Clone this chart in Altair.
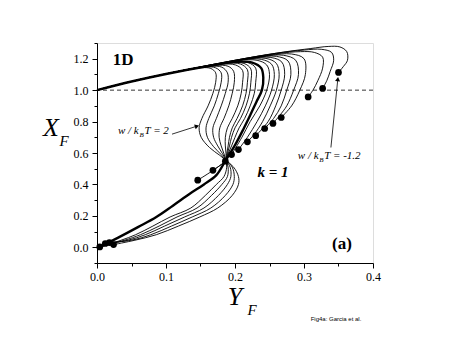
import altair as alt
import pandas as pd

# ---------------- data ----------------
FAN = [(0.0, 1.0), (0.05, 1.055), (0.1, 1.103)]

# S-shaped trajectories (left family, w/kBT = 2.0 ... 0.6)
curve_s0 = FAN + [(0.13, 1.13), (0.152, 1.143), (0.165, 1.138), (0.172, 1.11), (0.172, 1.05), (0.168, 0.98),
                  (0.161, 0.90), (0.152, 0.82), (0.148, 0.76), (0.151, 0.70), (0.163, 0.635), (0.178, 0.585),
                  (0.187, 0.553), (0.198, 0.51), (0.205, 0.45), (0.205, 0.40), (0.196, 0.33), (0.175, 0.25),
                  (0.149, 0.193), (0.118, 0.135), (0.086, 0.08), (0.055, 0.045), (0.024, 0.017)]
curve_s1 = FAN + [(0.135, 1.134), (0.158, 1.148), (0.172, 1.142), (0.18, 1.11), (0.18, 1.05), (0.176, 0.98),
                  (0.17, 0.90), (0.162, 0.82), (0.158, 0.76), (0.160, 0.70), (0.169, 0.64), (0.18, 0.59),
                  (0.187, 0.553), (0.196, 0.51), (0.199, 0.45), (0.197, 0.40), (0.186, 0.33), (0.165, 0.25),
                  (0.138, 0.193), (0.108, 0.135), (0.078, 0.08), (0.05, 0.045), (0.018, 0.03)]
curve_s2 = FAN + [(0.14, 1.138), (0.165, 1.152), (0.181, 1.146), (0.189, 1.11), (0.19, 1.05), (0.186, 0.98),
                  (0.18, 0.90), (0.173, 0.82), (0.168, 0.76), (0.169, 0.70), (0.175, 0.645), (0.182, 0.595),
                  (0.187, 0.553), (0.193, 0.51), (0.194, 0.45), (0.189, 0.40), (0.176, 0.33), (0.155, 0.25),
                  (0.127, 0.193), (0.098, 0.135), (0.07, 0.08), (0.045, 0.045), (0.012, 0.024)]
curve_s3 = FAN + [(0.145, 1.142), (0.172, 1.158), (0.19, 1.152), (0.198, 1.12), (0.199, 1.05), (0.196, 0.98),
                  (0.191, 0.90), (0.184, 0.82), (0.178, 0.76), (0.177, 0.70), (0.180, 0.645), (0.184, 0.595),
                  (0.187, 0.553), (0.19, 0.51), (0.189, 0.45), (0.181, 0.40), (0.166, 0.33), (0.145, 0.25),
                  (0.116, 0.193), (0.09, 0.135), (0.063, 0.08), (0.04, 0.045), (0.004, 0.002)]
curve_s4 = FAN + [(0.15, 1.146), (0.18, 1.165), (0.201, 1.16), (0.211, 1.125), (0.211, 1.05), (0.209, 0.98),
                  (0.204, 0.90), (0.196, 0.82), (0.189, 0.76), (0.186, 0.70), (0.186, 0.645), (0.187, 0.595),
                  (0.187, 0.553), (0.188, 0.51), (0.184, 0.45), (0.173, 0.40), (0.157, 0.33), (0.136, 0.25),
                  (0.106, 0.193), (0.081, 0.135), (0.056, 0.08), (0.035, 0.045), (0.004, 0.002)]
curve_s5 = FAN + [(0.155, 1.148), (0.186, 1.17), (0.208, 1.166), (0.218, 1.13), (0.218, 1.05), (0.216, 0.98),
                  (0.211, 0.90), (0.203, 0.82), (0.196, 0.76), (0.192, 0.70), (0.19, 0.645), (0.188, 0.595),
                  (0.187, 0.553), (0.178, 0.52), (0.165, 0.48), (0.146, 0.427)]
curve_s6 = FAN + [(0.16, 1.152), (0.19, 1.173), (0.213, 1.17), (0.223, 1.135), (0.223, 1.05), (0.221, 0.98),
                  (0.216, 0.90), (0.208, 0.82), (0.2, 0.76), (0.195, 0.70), (0.192, 0.645), (0.189, 0.595),
                  (0.187, 0.553), (0.178, 0.52), (0.168, 0.49)]
curve_s7 = FAN + [(0.165, 1.155), (0.195, 1.177), (0.219, 1.175), (0.23, 1.14), (0.23, 1.05), (0.228, 0.98),
                  (0.222, 0.90), (0.214, 0.82), (0.206, 0.76), (0.2, 0.70), (0.195, 0.645), (0.19, 0.595),
                  (0.186, 0.548)]

# trajectories ending on the diagonal
curve_d0 = FAN + [(0.17, 1.162), (0.205, 1.188), (0.232, 1.19), (0.246, 1.16), (0.25, 1.1), (0.246, 1.0),
                  (0.236, 0.9), (0.222, 0.8), (0.21, 0.7), (0.195, 0.59)]
curve_d1 = FAN + [(0.175, 1.166), (0.21, 1.193), (0.238, 1.196), (0.253, 1.165), (0.257, 1.1), (0.253, 1.0),
                  (0.244, 0.9), (0.232, 0.8), (0.218, 0.7), (0.205, 0.622)]
curve_d2 = FAN + [(0.18, 1.17), (0.215, 1.197), (0.245, 1.202), (0.26, 1.17), (0.264, 1.1), (0.26, 1.0),
                  (0.251, 0.9), (0.24, 0.8), (0.228, 0.72), (0.218, 0.671)]
curve_d3 = FAN + [(0.185, 1.174), (0.22, 1.201), (0.252, 1.208), (0.268, 1.178), (0.272, 1.1), (0.267, 1.0),
                  (0.259, 0.9), (0.248, 0.8), (0.23, 0.71)]
curve_d4 = FAN + [(0.19, 1.178), (0.23, 1.208), (0.26, 1.215), (0.277, 1.185), (0.281, 1.1), (0.275, 1.0),
                  (0.267, 0.9), (0.256, 0.82), (0.243, 0.756)]
curve_d5 = FAN + [(0.195, 1.182), (0.24, 1.215), (0.27, 1.222), (0.288, 1.19), (0.292, 1.1), (0.285, 1.0),
                  (0.275, 0.9), (0.265, 0.84), (0.255, 0.788)]
curve_d6 = FAN + [(0.2, 1.186), (0.25, 1.222), (0.282, 1.23), (0.3, 1.2), (0.302, 1.1), (0.294, 1.0),
                  (0.282, 0.9), (0.267, 0.826)]

# upper-right curls (w/kBT down to -1.2)
curve_u0 = FAN + [(0.2, 1.19), (0.26, 1.232), (0.295, 1.245), (0.315, 1.24), (0.327, 1.21), (0.327, 1.14),
                  (0.32, 1.06), (0.313, 1.0), (0.306, 0.957)]
curve_u1 = FAN + [(0.2, 1.19), (0.26, 1.235), (0.3, 1.255), (0.325, 1.26), (0.34, 1.24), (0.343, 1.19),
                  (0.338, 1.12), (0.333, 1.06), (0.327, 1.011)]
curve_u2 = FAN + [(0.2, 1.19), (0.27, 1.242), (0.31, 1.265), (0.335, 1.278), (0.352, 1.275), (0.362, 1.245),
                  (0.363, 1.19), (0.357, 1.15), (0.35, 1.113)]

# thick curve
curve_thick = FAN + [(0.17, 1.16), (0.2, 1.18), (0.225, 1.175), (0.238, 1.14), (0.241, 1.08), (0.239, 1.0),
                     (0.231, 0.925), (0.222, 0.84), (0.212, 0.75), (0.2, 0.65), (0.186, 0.55), (0.173, 0.459),
                     (0.155, 0.40), (0.135, 0.342), (0.11, 0.265), (0.086, 0.193), (0.06, 0.13), (0.03, 0.06),
                     (0.004, 0.002)]

# end points (dots)
dot_x = [0.004, 0.012, 0.024, 0.018, 0.146, 0.168, 0.186, 0.195, 0.205, 0.218, 0.23, 0.243, 0.255, 0.267,
         0.306, 0.327, 0.35]
dot_y = [0.002, 0.024, 0.017, 0.03, 0.427, 0.49, 0.548, 0.59, 0.622, 0.671, 0.71, 0.756, 0.788, 0.826,
         0.957, 1.011, 1.113]

x_major = [0.0, 0.1, 0.2, 0.3, 0.4]
x_minor = [0.05, 0.15, 0.25, 0.35]
y_major = [0.0, 0.2, 0.4, 0.6, 0.8, 1.0, 1.2]
y_minor = [-0.1, 0.1, 0.3, 0.5, 0.7, 0.9, 1.1, 1.3]

thin_curves = {
    "s0": curve_s0, "s1": curve_s1, "s2": curve_s2, "s3": curve_s3, "s4": curve_s4, "s5": curve_s5,
    "s6": curve_s6, "s7": curve_s7, "d0": curve_d0, "d1": curve_d1, "d2": curve_d2, "d3": curve_d3,
    "d4": curve_d4, "d5": curve_d5, "d6": curve_d6, "u0": curve_u0, "u1": curve_u1, "u2": curve_u2,
}

rows = []
for name, pts in thin_curves.items():
    for i, (xv, yv) in enumerate(pts):
        rows.append({"curve": name, "i": i, "x": xv, "y": yv})
thin_df = pd.DataFrame(rows)
thick_df = pd.DataFrame([{"curve": "thick", "i": i, "x": xv, "y": yv} for i, (xv, yv) in enumerate(curve_thick)])
dots_df = pd.DataFrame({"x": dot_x, "y": dot_y})
one_df = pd.DataFrame({"k": [0]})

# ---------------- chart ----------------
SERIF = "Liberation Serif"
xs = alt.Scale(domain=[0, 0.4], nice=False, zero=False)
ys = alt.Scale(domain=[-0.1, 1.3], nice=False, zero=False)

major_x = alt.Axis(values=x_major, format=".1f", tickSize=5, labelFont=SERIF, labelFontSize=12,
                   labelColor="black", domainColor="black", tickColor="black", grid=False, title=None,
                   orient="bottom", labelPadding=3, labelFlush=False)
major_y = alt.Axis(values=y_major, format=".1f", tickSize=5, labelFont=SERIF, labelFontSize=12,
                   labelColor="black", domainColor="black", tickColor="black", grid=False, title=None,
                   orient="left", labelPadding=4)
minor_x = alt.Axis(values=x_minor, labels=False, tickSize=3, domain=False, tickColor="black", grid=False,
                   title=None, orient="bottom")
minor_y = alt.Axis(values=y_minor, labels=False, tickSize=3, domain=False, tickColor="black", grid=False,
                   title=None, orient="left")

thin = alt.Chart(thin_df).mark_line(interpolate="catmull-rom", color="black", strokeWidth=0.9).encode(
    x=alt.X("x:Q", scale=xs, axis=major_x),
    y=alt.Y("y:Q", scale=ys, axis=major_y),
    detail="curve:N",
    order="i:Q",
)
minor = alt.Chart(dots_df).mark_point(opacity=0).encode(
    x=alt.X("x:Q", scale=xs, axis=minor_x),
    y=alt.Y("y:Q", scale=ys, axis=minor_y),
)
thick = alt.Chart(thick_df).mark_line(interpolate="catmull-rom", color="black", strokeWidth=2.4).encode(
    x=alt.X("x:Q", scale=xs, axis=None), y=alt.Y("y:Q", scale=ys, axis=None), detail="curve:N", order="i:Q"
)
dots = alt.Chart(dots_df).mark_circle(color="black", opacity=1, size=45).encode(
    x=alt.X("x:Q", scale=xs, axis=None), y=alt.Y("y:Q", scale=ys, axis=None)
)
dashed = alt.Chart(one_df).mark_rule(color="black", strokeDash=[4, 3], strokeWidth=0.8).encode(
    y=alt.YDatum(1.0, scale=ys, axis=None)
)


def txt(text, x, y, size, weight="normal", style="normal", align="left", baseline="alphabetic", font=SERIF):
    return alt.Chart(one_df).mark_text(text=text, fontSize=size, fontWeight=weight, fontStyle=style,
                                       align=align, baseline=baseline, font=font, color="black").encode(
        x=alt.XDatum(x, scale=xs, axis=None), y=alt.YDatum(y, scale=ys, axis=None))


def ptxt(text, px, py, size, style="normal", weight="normal", font=SERIF, align="center"):
    return alt.Chart(one_df).mark_text(text=text, fontSize=size, fontWeight=weight, fontStyle=style,
                                       align=align, baseline="middle", font=font, color="black").encode(
        x=alt.value(px), y=alt.value(py))


labels = [
    txt("1D", 0.038, 1.19, 17, weight="bold", align="center", baseline="middle"),
    txt("k = 1", 0.255, 0.478, 15, weight="bold", style="italic", align="center", baseline="middle"),
    txt("(a)", 0.355, 0.02, 17, weight="bold", align="center", baseline="middle"),
    # w / kBT = 2
    txt("w / k", 0.0304, 0.72, 11, style="italic"),
    txt("B", 0.0616, 0.70, 7, style="italic"),
    txt("T = 2", 0.0688, 0.72, 11, style="italic"),
    # w / kBT = -1.2
    txt("w / k", 0.291, 0.56, 11, style="italic"),
    txt("B", 0.3222, 0.54, 7, style="italic"),
    txt("T = -1.2", 0.3294, 0.56, 11, style="italic"),
    # axis titles
    ptxt("X", -46, 85, 26, style="italic"),
    ptxt("F", -33, 98, 15, style="italic"),
    ptxt("Y", 138, 254, 26, style="italic"),
    ptxt("F", 155, 267, 15, style="italic"),
    ptxt("Fig4a: Garcia et al.", 239, 276, 6, font="Liberation Sans"),
]

arrow_df = pd.DataFrame({"x": [0.1087, 0.339], "y": [0.72, 0.635], "x2": [0.1449, 0.349], "y2": [0.771, 1.07],
                         "ang": [72, 6]})
arrow_lines = alt.Chart(arrow_df).mark_rule(color="black", strokeWidth=0.8).encode(
    x=alt.X("x:Q", scale=xs, axis=None), y=alt.Y("y:Q", scale=ys, axis=None), x2="x2:Q", y2="y2:Q")
arrow_heads = alt.Chart(arrow_df).mark_point(shape="triangle-up", filled=True, color="black", opacity=1,
                                             size=25).encode(
    x=alt.X("x2:Q", scale=xs, axis=None), y=alt.Y("y2:Q", scale=ys, axis=None),
    angle=alt.Angle("ang:Q", scale=None))

chart = alt.layer(thin, minor, dashed, thick, dots, arrow_lines, arrow_heads, *labels).resolve_axis(
    x="independent", y="independent"
).properties(
    width=276, height=220,
    autosize=alt.AutoSizeParams(type="none"),
    padding={"left": 89, "top": 35, "right": 80, "bottom": 75},
).configure_view(stroke="black", strokeWidth=1).configure(background="white")

chart.save("out.html", embed_options={"renderer": "svg", "actions": False})
